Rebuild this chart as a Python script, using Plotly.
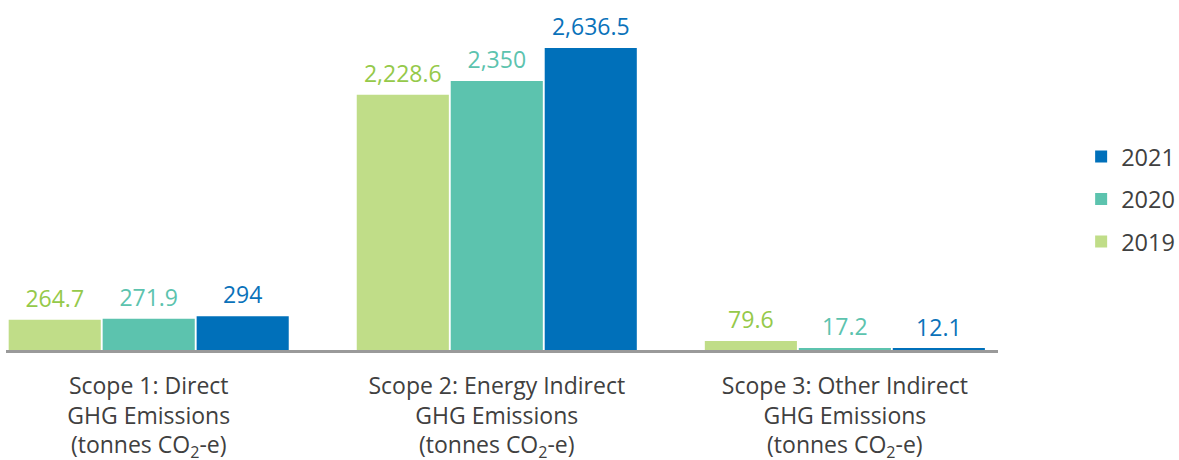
import plotly.graph_objects as go

categories = [
    "Scope 1: Direct<br>GHG Emissions<br>(tonnes CO<sub>2</sub>-e)",
    "Scope 2: Energy Indirect<br>GHG Emissions<br>(tonnes CO<sub>2</sub>-e)",
    "Scope 3: Other Indirect<br>GHG Emissions<br>(tonnes CO<sub>2</sub>-e)",
]
years = ["2019", "2020", "2021"]
values_2019 = [264.7, 2228.6, 79.6]
values_2020 = [271.9, 2350, 17.2]
values_2021 = [294, 2636.5, 12.1]

series = [values_2019, values_2020, values_2021]
bar_colors = ["#C0DD88", "#5CC3AE", "#0070BA"]
text_colors = ["#95C94A", "#5CC3AE", "#0A72BA"]
legend_ranks = [3, 2, 1]

def fmt(v):
    return f"{v:,}"

fig = go.Figure()
for name, vals, bc, rank in zip(years, series, bar_colors, legend_ranks):
    fig.add_trace(go.Bar(
        x=categories, y=vals, name=name, offsetgroup=name, alignmentgroup="a",
        legendgroup=name, legendrank=rank,
        marker=dict(color=bc, line=dict(width=0)),
    ))
for name, vals, tc in zip(years, series, text_colors):
    fig.add_trace(go.Scatter(
        x=categories, y=vals, name=name, offsetgroup=name, alignmentgroup="a",
        legendgroup=name, showlegend=False,
        mode="markers+text", marker=dict(size=10, opacity=0),
        text=[fmt(v) for v in vals], textposition="top center",
        textfont=dict(color=tc, size=23, family="Open Sans"),
        cliponaxis=False, hoverinfo="skip",
    ))

fig.update_layout(
    width=1179, height=460,
    margin=dict(l=6, r=181, t=20, b=110, autoexpand=False),
    paper_bgcolor="white", plot_bgcolor="white",
    barmode="group", bargap=0.19, bargroupgap=0.02,
    scattermode="group", scattergap=0.19,
    font=dict(family="Open Sans", color="#404040", size=22),
    xaxis=dict(range=[-0.41, 2.44], showline=True, linecolor="#9a9a9a", linewidth=3,
               ticks="", showgrid=False, tickfont=dict(size=23, color="#404040"),
               automargin=False, ticklabelstandoff=13),
    yaxis=dict(range=[0, 2882], visible=False, showgrid=False, zeroline=False,
               automargin=False),
    legend=dict(traceorder="grouped", tracegroupgap=9,
                xref="container", yref="container",
                x=0.917, y=0.567, yanchor="middle", xanchor="left",
                font=dict(size=23.5, color="#404040"), itemclick=False),
)
fig.write_html("out.html", config={"displayModeBar": False},
               post_script="document.body.style.margin='0';")
